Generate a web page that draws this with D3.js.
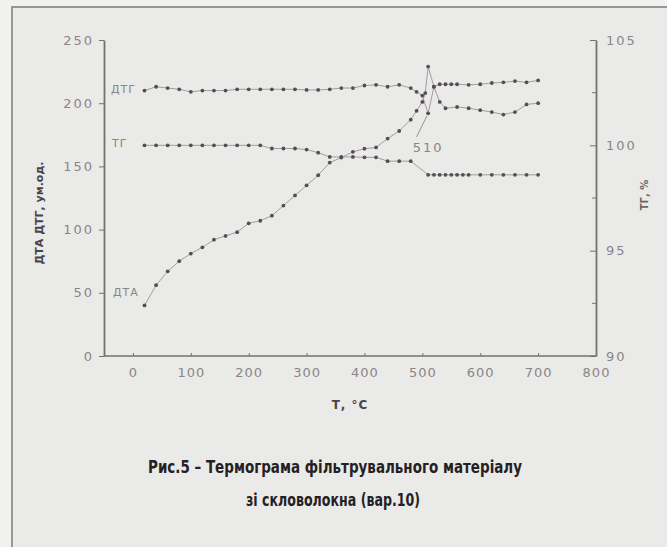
<!DOCTYPE html>
<html>
<head>
<meta charset="utf-8">
<script src="https://cdn.jsdelivr.net/npm/d3@7"></script>
<style>
  body { margin: 0; background: #f1f1ef; }
  svg { display: block; }
</style>
</head>
<body>
<svg width="667" height="547"></svg>
<script>
// DTA curve (ум.од.)
const dtaT = [20, 40, 60, 80, 100, 120, 140, 160, 180, 200, 220, 240, 260, 280, 300, 320, 340, 360, 380, 400, 420, 440, 460, 480, 490, 500, 505, 510, 520, 530, 540, 560, 580, 600, 620, 640, 660, 680, 700];
const dtaV = [40, 56, 67, 75, 81, 86, 92, 95, 98, 105, 107, 111, 119, 127, 135, 143, 153, 157, 161.5, 164, 165, 172, 178, 187, 194, 201, 208, 229, 213, 201, 196, 197, 196, 194.5, 193, 191, 193, 199, 200];

// DTG curve (ум.од.)
const dtgT = [20, 40, 60, 80, 100, 120, 140, 160, 180, 200, 220, 240, 260, 280, 300, 320, 340, 360, 380, 400, 420, 440, 460, 480, 490, 500, 510, 520, 530, 540, 550, 560, 580, 600, 620, 640, 660, 680, 700];
const dtgV = [210, 213, 212, 211, 209, 210, 210, 210, 211, 211, 211, 211, 211, 211, 210.5, 210.5, 211, 212, 212, 214, 214.5, 213, 214.5, 212, 209, 206, 192, 213, 215, 215, 215, 215, 214.5, 215, 216, 216.5, 217.5, 216.5, 218];

// TG curve (%)
const tgT = [20, 40, 60, 80, 100, 120, 140, 160, 180, 200, 220, 240, 260, 280, 300, 320, 340, 360, 380, 400, 420, 440, 460, 480, 510, 520, 530, 540, 550, 560, 570, 580, 600, 620, 640, 660, 680, 700];
const tgV = [100, 100, 100, 100, 100, 100, 100, 100, 100, 100, 100, 99.85, 99.85, 99.85, 99.8, 99.65, 99.45, 99.45, 99.45, 99.43, 99.43, 99.25, 99.25, 99.25, 98.6, 98.6, 98.6, 98.6, 98.6, 98.6, 98.6, 98.6, 98.6, 98.6, 98.6, 98.6, 98.6, 98.6];

const xTicks = [0, 100, 200, 300, 400, 500, 600, 700, 800];
const yLeftTicks = [0, 50, 100, 150, 200, 250];
const yRightTicks = [90, 95, 100, 105];
const yRightMinor = [92.5, 97.5, 102.5];

const plot = { left: 104, right: 596, top: 40, bottom: 356 };
const axisColor = "#77706f";
const dotColor = "#564c52";
const tickFont = "'DejaVu Sans', sans-serif";

const svg = d3.select("svg");

// paper + frame
svg.append("rect").attr("x", 12).attr("y", 7).attr("width", 700).attr("height", 600)
    .attr("fill", "#eaeae8").attr("stroke", "#868182").attr("stroke-width", 1.6);

const x = d3.scaleLinear().domain([-50, 800]).range([plot.left, plot.right]);
const yL = d3.scaleLinear().domain([0, 250]).range([plot.bottom, plot.top]);
const yR = d3.scaleLinear().domain([90, 105]).range([plot.bottom, plot.top]);

// x axis (labels only below, small ticks up)
const gx = svg.append("g")
    .attr("transform", "translate(0," + plot.bottom + ")")
    .call(d3.axisBottom(x).tickValues(xTicks).tickSize(-3).tickPadding(12));
gx.select(".domain").remove();
svg.append("line").attr("x1", plot.left).attr("x2", plot.right)
    .attr("y1", plot.bottom).attr("y2", plot.bottom)
    .attr("stroke", axisColor).attr("stroke-width", 1.4);

// left y axis
const gl = svg.append("g")
    .attr("transform", "translate(" + plot.left + ",0)")
    .call(d3.axisLeft(yL).tickValues(yLeftTicks).tickSize(5).tickSizeOuter(0).tickPadding(5));

// right y axis (ticks inward)
const gr = svg.append("g")
    .attr("transform", "translate(" + plot.right + ",0)")
    .call(d3.axisRight(yR).tickValues(yRightTicks).tickSize(-6).tickSizeOuter(0).tickPadding(10));
gr.selectAll(".minor").data(yRightMinor).enter().append("line")
    .attr("x1", -4).attr("x2", 0)
    .attr("y1", d => yR(d)).attr("y2", d => yR(d))
    .attr("stroke", axisColor);

[gx, gl, gr].forEach(g => {
    g.select(".domain").attr("stroke", axisColor).attr("stroke-width", 1.8);
    g.selectAll(".tick line").attr("stroke", axisColor);
    g.selectAll(".tick text")
        .attr("fill", "#8a8587")
        .style("font-family", tickFont)
        .style("font-size", "13px");
});
gl.selectAll(".tick text").style("letter-spacing", "2px");
gr.selectAll(".tick text").style("letter-spacing", "2px").attr("text-anchor", "start");
gx.selectAll(".tick text").style("letter-spacing", "1px");

// series
function drawSeries(ts, vs, yScale) {
    const pts = ts.map((t, i) => [t, vs[i]]);
    svg.append("path")
        .datum(pts)
        .attr("fill", "none")
        .attr("stroke", "#9a9396")
        .attr("stroke-width", 0.9)
        .attr("d", d3.line().x(d => x(d[0])).y(d => yScale(d[1])));
    svg.append("g").selectAll("circle")
        .data(pts)
        .enter()
        .append("circle")
            .attr("cx", d => x(d[0]))
            .attr("cy", d => yScale(d[1]))
            .attr("r", 1.9)
            .attr("fill", dotColor);
}
drawSeries(tgT, tgV, yR);
drawSeries(dtgT, dtgV, yL);
drawSeries(dtaT, dtaV, yL);

// curve labels
const lab = svg.append("g")
    .style("font-family", tickFont)
    .style("font-size", "11px")
    .style("letter-spacing", "1px")
    .attr("fill", "#8a8587");
lab.append("text").attr("x", 111).attr("y", 93).text("ДТГ");
lab.append("text").attr("x", 112).attr("y", 147).text("ТГ");
lab.append("text").attr("x", 113).attr("y", 296).text("ДТА");

// 510 annotation
svg.append("line")
    .attr("x1", x(490)).attr("y1", 137)
    .attr("x2", x(508)).attr("y2", yL(190))
    .attr("stroke", "#9a9396").attr("stroke-width", 1);
svg.append("text")
    .attr("x", x(510)).attr("y", 152)
    .attr("text-anchor", "middle")
    .style("font-family", tickFont).style("font-size", "13px").style("letter-spacing", "2px")
    .attr("fill", "#8a8587")
    .text("510");

// axis titles
svg.append("text")
    .attr("transform", "translate(43,213) rotate(-90)")
    .attr("text-anchor", "middle")
    .style("font-family", tickFont).style("font-size", "11px").style("font-weight", "bold")
    .attr("fill", "#4a4446")
    .text("ДТА ДТГ, ум.од.");
svg.append("text")
    .attr("transform", "translate(648,195) rotate(-90)")
    .attr("text-anchor", "middle")
    .style("font-family", tickFont).style("font-size", "10px").style("font-weight", "bold")
    .attr("fill", "#6a6466")
    .text("ТГ, %");
svg.append("text")
    .attr("x", 350).attr("y", 409)
    .attr("text-anchor", "middle")
    .style("font-family", tickFont).style("font-size", "12px").style("font-weight", "bold")
    .style("letter-spacing", "1px")
    .attr("fill", "#4a4446")
    .text("Т, °С");

// caption (condensed look via textLength)
const cap = svg.append("g")
    .attr("text-anchor", "middle")
    .style("font-family", "'DejaVu Sans', sans-serif")
    .style("font-weight", "bold")
    .style("font-size", "18px")
    .attr("fill", "#252122");
cap.append("text").attr("x", 335).attr("y", 473)
    .attr("textLength", 374).attr("lengthAdjust", "spacingAndGlyphs")
    .text("Рис.5 – Термограма фільтрувального матеріалу");
cap.append("text").attr("x", 333).attr("y", 506)
    .attr("textLength", 174).attr("lengthAdjust", "spacingAndGlyphs")
    .text("зі скловолокна (вар.10)");
</script>
</body>
</html>
